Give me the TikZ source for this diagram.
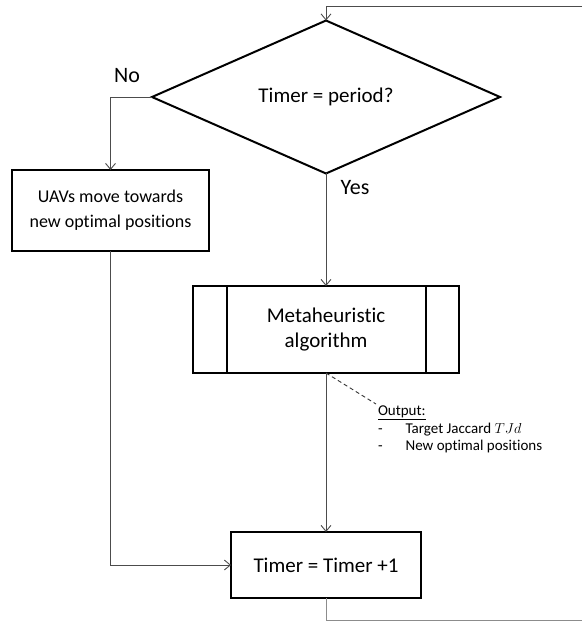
\documentclass[tikz,border=0pt]{standalone}
\usepackage{fontspec}
\setmainfont[Ligatures={NoCommon}]{Carlito}
\usetikzlibrary{arrows.meta,shapes.geometric}

\begin{document}
\begin{tikzpicture}[x=1pt,y=-1pt,
  every node/.style={inner sep=0pt, outer sep=0pt},
  box/.style={draw, line width=2pt, align=center},
  bigtext/.style={font=\fontsize{21}{25}\selectfont},
  link/.style={draw=black!70, line width=0.9pt},
  arr/.style={link, -{Straight Barb[length=6,width=10,line width=0.9pt]}},
  branch/.style={font=\fontsize{22}{26}\selectfont},
  note/.style={font=\fontsize{15}{17}\selectfont, align=left, anchor=north west, inner sep=2pt}]

\useasboundingbox (0,0) rectangle (582,622);

% decision
\node[box, bigtext, shape=diamond, minimum width=348, minimum height=132] (dec) at (326,97) {Timer = period?};

% process boxes
\node[box, font=\fontsize{18}{25}\selectfont, minimum width=197, minimum height=81] (uav) at (110.5,210.5)
  {UAVs move towards\\new optimal positions};
\node[box, bigtext, minimum width=266, minimum height=87] (meta) at (326,329.5)
  {Metaheuristic\\algorithm};
\draw[line width=2pt] ([xshift=34]meta.north west) -- ([xshift=34]meta.south west)
                      ([xshift=-33]meta.north east) -- ([xshift=-33]meta.south east);
\node[box, bigtext, minimum width=190, minimum height=66] (tmr) at (326,565) {Timer = Timer +1};

% branch labels
\node[branch] (no) at (127,76) {No};
\node[branch] (yes) at (355,188) {Yes};

% output annotation
\node[note] (out) at (376,404)
  {\underline{Output:}\\[1pt]
   -\hspace{23pt}Target Jaccard $TJd$\\
   -\hspace{23pt}New optimal positions};
\draw[dash pattern=on 4pt off 3pt, line width=0.9pt, draw=black!80] (meta.south) -- (out.north west);

% loop return coordinates at the right margin
\coordinate (loopbot) at (582,620);
\coordinate (looptop) at (582,6);

% connectors
\draw[arr] (dec.west) -| (uav.north);
\draw[arr] (uav.south) |- (tmr.west);
\draw[arr] (dec.south) -- (meta.north);
\draw[arr] (meta.south) -- (tmr.north);
\draw[link, draw=black!45] (tmr.south) |- (loopbot);
\draw[arr] (looptop) -| (dec.north);
\end{tikzpicture}
\end{document}
